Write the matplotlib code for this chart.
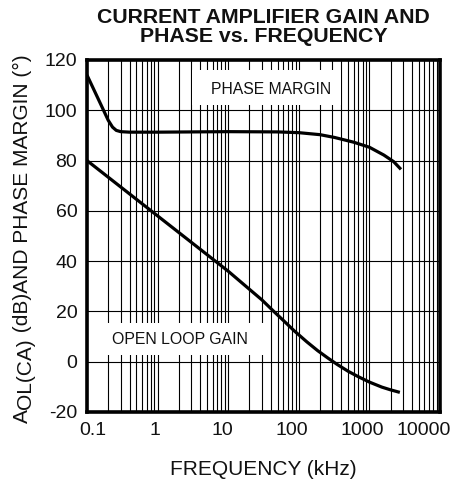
import matplotlib
matplotlib.use('Agg')
import matplotlib.pyplot as plt
import matplotlib.transforms as mtransforms
from matplotlib.patches import Rectangle
from matplotlib.ticker import FixedLocator, NullFormatter

plt.rcParams['font.family'] = ['Liberation Sans', 'DejaVu Sans']

# ---- data ----
phase_freq_khz = [0.1, 0.15, 0.2, 0.23, 0.26, 0.3, 0.4, 1, 10, 50, 100, 200, 320, 600, 1000, 1600, 2200, 2800]
phase_margin_deg = [114, 103.5, 96, 93.3, 92, 91.5, 91.3, 91.3, 91.5, 91.4, 91.1, 90.3, 89.2, 87.3, 85.3, 82.2, 79.6, 76.5]

gain_freq_khz = [0.1, 1, 10, 20, 30, 45, 60, 86, 130, 185, 260, 355, 500, 690, 1000, 1500, 2000, 2700]
gain_db = [80, 58, 36, 28.8, 24.6, 19.8, 16.5, 12.3, 7.9, 4.4, 1.4, -1.2, -3.8, -5.9, -8.1, -10.1, -11.2, -12.2]

x_ticks = [0.1, 1, 10, 100, 1000, 10000]
x_tick_labels = ['0.1', '1', '10', '100', '1000', '10000']
y_ticks = [-20, 0, 20, 40, 60, 80, 100, 120]

title_text = 'CURRENT AMPLIFIER GAIN AND\nPHASE vs. FREQUENCY'
x_label = 'FREQUENCY (kHz)'
y_label_parts = ['A', 'OL(CA)', ' (dB)AND PHASE MARGIN (°)']
phase_label = 'PHASE MARGIN'
gain_label = 'OPEN LOOP GAIN'

# annotation boxes (x0, x1, y0, y1) in data units
phase_box = (3.05, 395, 102.1, 116)
gain_box = (0.15, 33, 2.7, 15.4)

W, H = 456, 483
fig = plt.figure(figsize=(W / 100, H / 100), dpi=100)
ax = fig.add_axes([87 / W, 1 - 412 / H, (440 - 87) / W, 352 / H])
ax.set_xscale('log')
ax.set_xlim(0.1, 10000)
ax.set_ylim(-20, 120)

minor = [m * 10 ** e for e in range(-1, 4) for m in range(2, 10)]
ax.xaxis.set_major_locator(FixedLocator(x_ticks))
ax.xaxis.set_minor_locator(FixedLocator(minor))
ax.xaxis.set_minor_formatter(NullFormatter())
ax.set_xticks(x_ticks)
ax.set_xticklabels(x_tick_labels)
ax.set_yticks(y_ticks)
ax.set_yticklabels([str(v) for v in y_ticks])

ax.set_axisbelow(True)
ax.grid(which='both', axis='x', color='black', lw=0.8)
ax.grid(which='major', axis='y', color='black', lw=0.8)
ax.tick_params(which='both', length=0, labelsize=14, colors='#111111')
ax.tick_params(axis='x', pad=7.5)
ax.tick_params(axis='y', pad=7)
for sp in ax.spines.values():
    sp.set_linewidth(2.6)
    sp.set_color('black')

# shift x tick labels like the reference
x_offsets_px = [6, -3, -6, -7, -7, -16]
for lab, dx in zip(ax.get_xticklabels(), x_offsets_px):
    lab.set_transform(lab.get_transform() + mtransforms.ScaledTranslation(dx / 100, 0, fig.dpi_scale_trans))

# white boxes behind annotation text
for (x0, x1, y0, y1) in (phase_box, gain_box):
    ax.add_patch(Rectangle((x0, y0), x1 - x0, y1 - y0, facecolor='white', edgecolor='none', zorder=1))

ax.plot(phase_freq_khz, phase_margin_deg, color='black', lw=2.3, zorder=3,
        solid_capstyle='butt', solid_joinstyle='round')
ax.plot(gain_freq_khz, gain_db, color='black', lw=2.3, zorder=3,
        solid_capstyle='butt', solid_joinstyle='round')

ax.text(271 / W, 1 - 90 / H, phase_label, transform=fig.transFigure, ha='center', va='center',
        fontsize=11.3, color='#111111', zorder=4)
ax.text(180 / W, 1 - 339 / H, gain_label, transform=fig.transFigure, ha='center', va='center',
        fontsize=11.4, color='#111111', zorder=4)

fig.text(263.5 / W, 1 - 8 / H, title_text, ha='center', va='top', fontsize=15.3, weight='bold',
         linespacing=0.98, color='#111111')
fig.text(263.5 / W, 1 - 475 / H, x_label, ha='center', va='baseline', fontsize=15, color='#111111')

# y label built from pieces (subscript at same size, shifted)
renderer = fig.canvas.get_renderer()
ident = mtransforms.IdentityTransform()
base_x = 28
shifts = [0, 2.5, 0]
y = 60
for part, sh in zip(y_label_parts, shifts):
    t = fig.text(base_x + sh, y, part, rotation=90, rotation_mode='anchor', ha='left', va='baseline',
                 fontsize=15, color='#111111', transform=ident)
    bb = t.get_window_extent(renderer)
    y += bb.height

fig.savefig('out.png', dpi=100)
